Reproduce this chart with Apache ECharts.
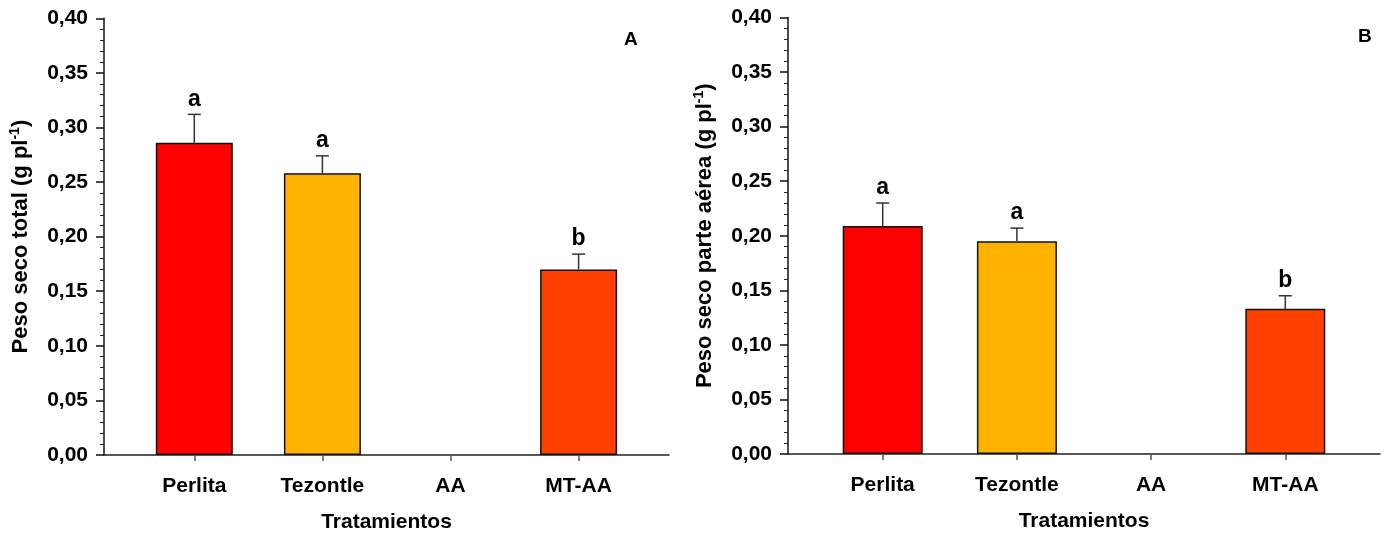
<!DOCTYPE html>
<html>
<head>
<meta charset="utf-8">
<script src="https://cdn.jsdelivr.net/npm/echarts@6/dist/echarts.min.js"></script>
<style>html,body{margin:0;padding:0;background:#fff;}#c{width:1385px;height:533px;}</style>
</head>
<body>
<div id="c"></div>
<script>
const categories = ['Perlita', 'Tezontle', 'AA', 'MT-AA'];
const totalValues = [0.286, 0.258, 0, 0.170];
const totalErrors = [0.026, 0.016, 0, 0.014];
const totalLetters = ['a', 'a', '', 'b'];
const aerialValues = [0.209, 0.195, 0, 0.133];
const aerialErrors = [0.021, 0.012, 0, 0.012];
const aerialLetters = ['a', 'a', '', 'b'];
const barColors = ['#FF0000', '#FFB300', '#FF0000', '#FF4000'];
const yTicks = [0, 0.05, 0.10, 0.15, 0.20, 0.25, 0.30, 0.35, 0.40];

const FONT = '"Liberation Sans", Arial, sans-serif';
const chart = echarts.init(document.getElementById('c'));

function yAxisMain(gridIndex, title) {
  return {
    type: 'value', gridIndex: gridIndex,
    min: yTicks[0], max: yTicks[yTicks.length - 1], interval: 0.05,
    axisLine: { show: true, lineStyle: { color: '#111', width: 1.5 } },
    axisTick: { show: true, length: 8, lineStyle: { color: '#111', width: 1.5 } },
    minorTick: { show: true, splitNumber: 5, length: 4, lineStyle: { color: '#222', width: 1 } },
    splitLine: { show: false },
    axisLabel: {
      margin: 16, fontSize: 21, fontWeight: 'bold', color: '#000', fontFamily: FONT,
      formatter: v => v.toFixed(2).replace('.', ',')
    },
    name: '{a|' + title + '}{s|-1}{a|)}',
    nameLocation: 'middle', nameRotate: 90, nameGap: 70,
    nameTextStyle: {
      rich: {
        a: { fontSize: 22, fontWeight: 'bold', color: '#000', fontFamily: FONT, lineHeight: 26 },
        s: { fontSize: 14, fontWeight: 'bold', color: '#000', fontFamily: FONT, verticalAlign: 'top', lineHeight: 26 }
      }
    }
  };
}
function yAxisHidden(gridIndex) {
  return { type: 'value', gridIndex: gridIndex, min: 0, max: 0.4, show: false };
}
function xAxisLine(gridIndex) {
  return {
    type: 'value', gridIndex: gridIndex, min: 0, max: 1,
    axisLine: { show: true, onZero: false, lineStyle: { color: '#222', width: 1.5 } },
    axisTick: { show: false }, axisLabel: { show: false }, splitLine: { show: false },
    name: 'Tratamientos', nameLocation: 'middle', nameGap: 57,
    nameTextStyle: { fontSize: 21, fontWeight: 'bold', color: '#000', fontFamily: FONT }
  };
}
function xAxisCat(gridIndex) {
  return {
    type: 'category', gridIndex: gridIndex, data: categories, boundaryGap: true,
    axisLine: { show: false },
    axisTick: { show: true, alignWithLabel: true, length: 6, inside: false, lineStyle: { color: '#555', width: 1.5 } },
    axisLabel: { margin: 21, fontSize: 21, fontWeight: 'bold', color: '#000', fontFamily: FONT }
  };
}
function barSeries(axisIdx, values, width) {
  return {
    type: 'bar', xAxisIndex: axisIdx, yAxisIndex: axisIdx, barWidth: width,
    data: values.map((v, i) => (v === 0 ? '-' : { value: v, itemStyle: { color: barColors[i] } })),
    itemStyle: { borderColor: '#111', borderWidth: 1.5 },
    animation: false, z: 2
  };
}
function errSeries(axisIdx, values, errors, letters) {
  return {
    type: 'custom', xAxisIndex: axisIdx, yAxisIndex: axisIdx, animation: false, z: 3,
    data: values.map((v, i) => [i, v, v + errors[i], letters[i]]),
    renderItem: function (params, api) {
      const i = api.value(0);
      if (!letters[i]) return null;
      const base = api.coord([i, api.value(1)]);
      const top = api.coord([i, api.value(2)]);
      const half = 6.5;
      return {
        type: 'group',
        children: [
          { type: 'line', shape: { x1: base[0], y1: base[1], x2: top[0], y2: top[1] }, style: { stroke: '#333', lineWidth: 1.5 } },
          { type: 'line', shape: { x1: top[0] - half, y1: top[1], x2: top[0] + half, y2: top[1] }, style: { stroke: '#333', lineWidth: 1.5 } },
          { type: 'text', x: top[0], y: top[1] - 15, style: { text: letters[i], fill: '#000', font: 'bold 23px ' + FONT, align: 'center', verticalAlign: 'middle' } }
        ]
      };
    }
  };
}

const option = {
  backgroundColor: '#fff',
  animation: false,
  grid: [
    { left: 104, top: 18.3, width: 565, height: 436.7, outerBoundsMode: 'none', containLabel: false },
    { left: 130.25, top: 18.3, width: 512.4, height: 436.7, outerBoundsMode: 'none', containLabel: false },
    { left: 788, top: 17.5, width: 592, height: 436.5, outerBoundsMode: 'none', containLabel: false },
    { left: 815.6, top: 17.5, width: 536.8, height: 436.5, outerBoundsMode: 'none', containLabel: false }
  ],
  xAxis: [xAxisLine(0), xAxisCat(1), xAxisLine(2), xAxisCat(3)],
  yAxis: [
    yAxisMain(0, 'Peso seco total (g pl'),
    yAxisHidden(1),
    yAxisMain(2, 'Peso seco parte aérea (g pl'),
    yAxisHidden(3)
  ],
  graphic: [
    { type: 'text', left: 624, top: 30, style: { text: 'A', font: 'bold 19px ' + FONT, fill: '#000' } },
    { type: 'text', left: 1358, top: 27, style: { text: 'B', font: 'bold 19px ' + FONT, fill: '#000' } }
  ],
  series: [
    barSeries(1, totalValues, 77),
    errSeries(1, totalValues, totalErrors, totalLetters),
    barSeries(3, aerialValues, 80),
    errSeries(3, aerialValues, aerialErrors, aerialLetters)
  ]
};
chart.setOption(option);
</script>
</body>
</html>
